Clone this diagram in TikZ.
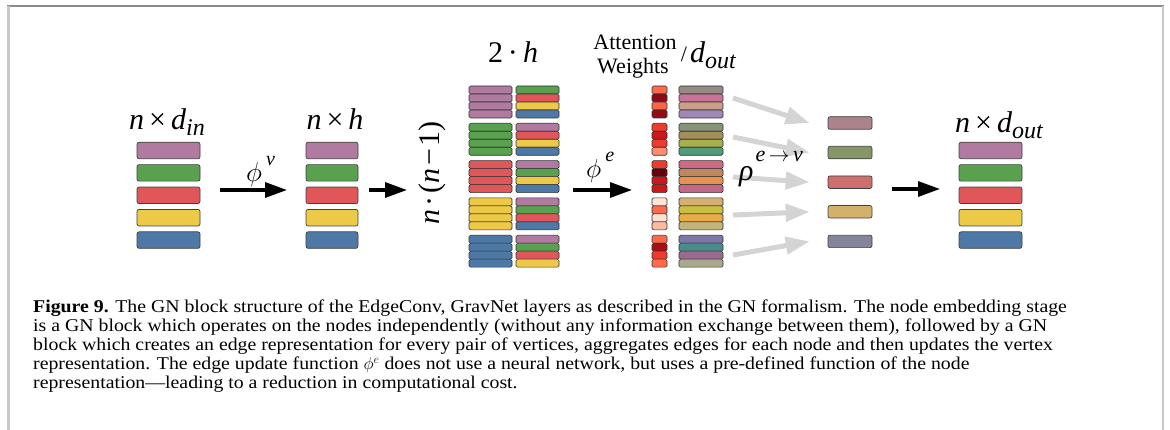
\documentclass[tikz,border=0pt]{standalone}
\usepackage{fontspec}
\setmainfont{Liberation Serif}
\newfontfamily\capfont[FakeStretch=1.1,Ligatures=TeX]{Liberation Serif}
\usetikzlibrary{arrows.meta}
\newcommand{\lsub}[1]{\raisebox{-6pt}{\fontsize{24}{24}\selectfont #1}}
\newcommand{\lop}[2][5pt]{\hspace{#1}{\upshape #2}\hspace{#1}}
\definecolor{cP}{HTML}{B07AA1}
\definecolor{cG}{HTML}{59A14F}
\definecolor{cR}{HTML}{E15759}
\definecolor{cY}{HTML}{EDC948}
\definecolor{cB}{HTML}{4E79A7}
\definecolor{cGray}{HTML}{D4D4D4}
\definecolor{cFrameT}{HTML}{8C8C8C}
\definecolor{cFrameS}{HTML}{C8C8C8}
% attention weights
\definecolor{at00}{HTML}{FC6A4A}\definecolor{at01}{HTML}{8B0A16}\definecolor{at02}{HTML}{FC6447}\definecolor{at03}{HTML}{920A14}
\definecolor{at10}{HTML}{EF3B2C}\definecolor{at11}{HTML}{CB181D}\definecolor{at12}{HTML}{EF3B2C}\definecolor{at13}{HTML}{FC8D6E}
\definecolor{at20}{HTML}{EF3B2C}\definecolor{at21}{HTML}{67000D}\definecolor{at22}{HTML}{CB181D}\definecolor{at23}{HTML}{CB181D}
\definecolor{at30}{HTML}{FEE5D9}\definecolor{at31}{HTML}{FB6A4A}\definecolor{at32}{HTML}{FEE0D2}\definecolor{at33}{HTML}{FCBBA1}
\definecolor{at40}{HTML}{FB6A4A}\definecolor{at41}{HTML}{A50F15}\definecolor{at42}{HTML}{EF3B2C}\definecolor{at43}{HTML}{FB6A4A}
% d_out edge features
\definecolor{do00}{HTML}{968B84}\definecolor{do01}{HTML}{C9729A}\definecolor{do02}{HTML}{CB9E87}\definecolor{do03}{HTML}{9F88B8}
\definecolor{do10}{HTML}{879477}\definecolor{do11}{HTML}{A38F5C}\definecolor{do12}{HTML}{A7B04C}\definecolor{do13}{HTML}{4F9B7B}
\definecolor{do20}{HTML}{D06984}\definecolor{do21}{HTML}{C0875E}\definecolor{do22}{HTML}{E8924F}\definecolor{do23}{HTML}{C26886}
\definecolor{do30}{HTML}{D6AF75}\definecolor{do31}{HTML}{C9BF43}\definecolor{do32}{HTML}{E9AA47}\definecolor{do33}{HTML}{C2B47B}
\definecolor{do40}{HTML}{7D78A8}\definecolor{do41}{HTML}{4A8B8C}\definecolor{do42}{HTML}{9A6B8F}\definecolor{do43}{HTML}{A8A88C}
% aggregated
\definecolor{ag0}{HTML}{AA838B}\definecolor{ag1}{HTML}{879667}\definecolor{ag2}{HTML}{CD6F6A}\definecolor{ag3}{HTML}{D3B16A}\definecolor{ag4}{HTML}{84849A}
\begin{document}
\begin{tikzpicture}[x=1pt,y=-1pt,
  cbar/.style={draw=black!75,line width=0.7pt,rounded corners=2pt,minimum width=#1,minimum height=16.5pt,inner sep=0pt},
  stripe/.style={draw=black!80,line width=0.6pt,rounded corners=1.5pt,minimum width=#1,minimum height=8pt,inner sep=0pt},
  abar/.style={draw=black!75,line width=0.7pt,rounded corners=2pt,minimum width=44pt,minimum height=12.5pt,inner sep=0pt},
  mlab/.style={font=\fontsize{30}{32}\selectfont\itshape,inner sep=0pt},
  tlab/.style={font=\fontsize{22}{25}\selectfont,inner sep=0pt},
  captext/.style={font=\capfont\fontsize{18}{19}\selectfont,inner sep=0pt,anchor=base west},
  blk/.style={line width=3.2pt,-{Triangle[length=22pt,width=15pt]}},
  gry/.style={draw=cGray,line width=5pt,-{Triangle[length=24pt,width=17pt]}},
]
\useasboundingbox (0,0) rectangle (1170,430);
% frame
\draw[cFrameT,line width=1.5pt] (7,6) -- (1164,6);
\draw[cFrameS,line width=2.2pt] (8.5,6) -- (8.5,430);
\draw[cFrameS,line width=2.2pt] (1163,6) -- (1163,430);

% column 1: n x d_in
\foreach \c [count=\i from 0] in {cP,cG,cR,cY,cB}
  \node[cbar=63pt,fill=\c] (in\i) at (168.5,{150.5+22.4*\i}) {};
\node[mlab,anchor=base] (lin) at (167,130) {n\lop{×}d\lsub{in}};

% column 2: n x h
\foreach \c [count=\i from 0] in {cP,cG,cR,cY,cB}
  \node[cbar=52pt,fill=\c] (hid\i) at (332,{150.5+22.4*\i}) {};
\node[mlab,anchor=base] (lh) at (335,130) {n\lop{×}h};

% column 3: edges 2h
\foreach \i/\c in {0/cP,1/cG,2/cR,3/cY,4/cB}{
  \foreach \k in {0,1,2,3}
    \node[stripe=43pt,fill=\c] (eL\i\k) at (490.5,{90+37.3*\i+8*\k}) {};
}
\foreach \i/\pa/\pb/\pc/\pd in {0/cG/cR/cY/cB,1/cP/cR/cY/cB,2/cP/cG/cY/cB,3/cP/cG/cR/cB,4/cP/cG/cR/cY}{
  \node[stripe=43pt,fill=\pa] (eR\i0) at (537.5,{90+37.3*\i}) {};
  \node[stripe=43pt,fill=\pb] (eR\i1) at (537.5,{98+37.3*\i}) {};
  \node[stripe=43pt,fill=\pc] (eR\i2) at (537.5,{106+37.3*\i}) {};
  \node[stripe=43pt,fill=\pd] (eR\i3) at (537.5,{114+37.3*\i}) {};
}
\node[mlab,anchor=base] (l2h) at (513,63) {{\upshape 2}\lop{·}h};
\node[mlab,rotate=90] (lnn) at (432,173) {n\lop[3pt]{·}{\upshape(}n\lop[3pt]{−}{\upshape 1)}};

% column 4: attention weights and d_out
\foreach \i/\pa/\pb/\pc/\pd in {0/at00/at01/at02/at03,1/at10/at11/at12/at13,2/at20/at21/at22/at23,3/at30/at31/at32/at33,4/at40/at41/at42/at43}{
  \node[stripe=15pt,fill=\pa] (w\i0) at (659.5,{90+37.3*\i}) {};
  \node[stripe=15pt,fill=\pb] (w\i1) at (659.5,{98+37.3*\i}) {};
  \node[stripe=15pt,fill=\pc] (w\i2) at (659.5,{106+37.3*\i}) {};
  \node[stripe=15pt,fill=\pd] (w\i3) at (659.5,{114+37.3*\i}) {};
}
\foreach \i/\pa/\pb/\pc/\pd in {0/do00/do01/do02/do03,1/do10/do11/do12/do13,2/do20/do21/do22/do23,3/do30/do31/do32/do33,4/do40/do41/do42/do43}{
  \node[stripe=44pt,fill=\pa] (o\i0) at (701,{90+37.3*\i}) {};
  \node[stripe=44pt,fill=\pb] (o\i1) at (701,{98+37.3*\i}) {};
  \node[stripe=44pt,fill=\pc] (o\i2) at (701,{106+37.3*\i}) {};
  \node[stripe=44pt,fill=\pd] (o\i3) at (701,{114+37.3*\i}) {};
}
\node[tlab,anchor=base] (latt) at (635,50) {Attention};
\node[tlab,anchor=base] (lwei) at (633,74) {Weights};
\node[tlab,anchor=base] (lsl) at (684,62) {/};
\node[mlab,anchor=base west] (ldo) at (690,63) {d\lsub{out}};

% column 5: aggregated
\foreach \c [count=\i from 0] in {ag0,ag1,ag2,ag3,ag4}
  \node[abar,fill=\c] (ag\i) at (850,{123+29.6*\i}) {};

% column 6: n x d_out
\foreach \c [count=\i from 0] in {cP,cG,cR,cY,cB}
  \node[cbar=63pt,fill=\c] (out\i) at (990.5,{150.5+22.4*\i}) {};
\node[mlab,anchor=base west] (lout) at (955,133) {n\lop{×}d\lsub{out}};

% arrows
\coordinate (a1s) at (220,190); \coordinate (a1e) at (287,190);
\coordinate (a2s) at (369,190); \coordinate (a2e) at (407,190);
\coordinate (a3s) at (573,190); \coordinate (a3e) at (632,190);
\coordinate (a5s) at (892,189); \coordinate (a5e) at (940,189);
\draw[blk] (a1s) -- (a1e);
\draw[blk] (a2s) -- (a2e);
\draw[blk] (a3s) -- (a3e);
\draw[blk] (a5s) -- (a5e);
\foreach \i/\y in {0/98,1/137,2/177,3/215,4/255}{
  \coordinate (g\i) at (733,\y);
  \draw[gry] (g\i) -- ([xshift=-18pt]ag\i.west);
}
\node[mlab,anchor=base west] (lphiv) at (246,182) {\scalebox{1.1}{$\phi$}\hspace{4pt}\raisebox{16pt}{\fontsize{20}{20}\selectfont v}};
\node[mlab,anchor=base west] (lphie) at (586,178) {\scalebox{1.05}{$\phi$}\hspace{4pt}\raisebox{16pt}{\fontsize{20}{20}\selectfont e}};
\node[mlab,anchor=base west] (lrho) at (739,181) {ρ\hspace{2pt}\raisebox{19pt}{\fontsize{22}{22}\selectfont e$\,\rightarrow\,$v}};

% caption
\node[captext] (cap1) at (33,312.5) {\textbf{Figure 9.} The GN block structure of the EdgeConv, GravNet layers as described in the GN formalism. The node embedding stage};
\node[captext] (cap2) at (33,331.5) {is a GN block which operates on the nodes independently (without any information exchange between them), followed by a GN};
\node[captext] (cap3) at (33,350.5) {block which creates an edge representation for every pair of vertices, aggregates edges for each node and then updates the vertex};
\node[captext] (cap4) at (33,369.5) {representation. The edge update function $\phi^e$ does not use a neural network, but uses a pre-defined function of the node};
\node[captext] (cap5) at (33,388.5) {representation—leading to a reduction in computational cost.};
\end{tikzpicture}
\end{document}
